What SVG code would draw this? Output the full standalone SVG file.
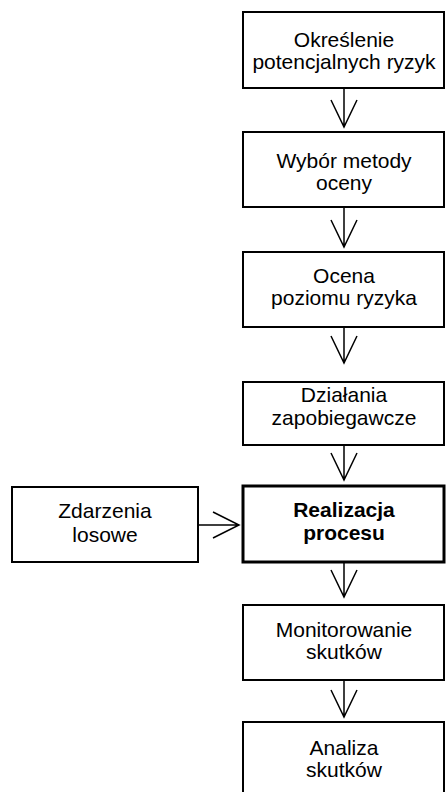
<svg xmlns="http://www.w3.org/2000/svg" width="446" height="792" viewBox="0 0 446 792">
<style>
.box{fill:#fff;stroke:#000;stroke-width:2}
.thick{fill:#fff;stroke:#000;stroke-width:3}
text{font-family:"Liberation Sans",Arial,sans-serif;font-size:21px;fill:#000;text-anchor:middle}
.b{font-weight:bold}
.c{fill:none;stroke:#000;stroke-width:1.5}
</style>
<rect width="446" height="792" fill="#fff"/>
<g id="connectors">
<path class="c" d="M344 88V127M331 100L344 127L357 100"/>
<path class="c" d="M344 207V247M331 220L344 247L357 220"/>
<path class="c" d="M344 327V363M331 336L344 363L357 336"/>
<path class="c" d="M344 445V480M331 453L344 480L357 453"/>
<path class="c" d="M344 562V597M331 570L344 597L357 570"/>
<path class="c" d="M344 680V717M331 690L344 717L357 690"/>
<path class="c" d="M199 525H239M213 512L239 525L213 538"/>
</g>
<g id="n1"><rect class="box" x="243" y="12" width="201" height="76"/><text x="344" y="47">Określenie</text><text x="344" y="69">potencjalnych ryzyk</text></g>
<g id="n2"><rect class="box" x="243" y="132" width="201" height="75"/><text x="344" y="168">Wybór metody</text><text x="344" y="190">oceny</text></g>
<g id="n3"><rect class="box" x="243" y="252" width="201" height="75"/><text x="344" y="283">Ocena</text><text x="344" y="305">poziomu ryzyka</text></g>
<g id="n4"><rect class="box" x="243" y="382" width="201" height="63"/><text x="344" y="402">Działania</text><text x="344" y="425">zapobiegawcze</text></g>
<g id="n5"><rect class="thick" x="243" y="486" width="201" height="76"/><text class="b" x="344" y="517">Realizacja</text><text class="b" x="344" y="540">procesu</text></g>
<g id="n8"><rect class="box" x="12" y="487" width="186" height="75"/><text x="105" y="518">Zdarzenia</text><text x="105" y="542">losowe</text></g>
<g id="n6"><rect class="box" x="243" y="605" width="201" height="75"/><text x="344" y="637">Monitorowanie</text><text x="344" y="659">skutków</text></g>
<g id="n7"><rect class="box" x="243" y="722" width="201" height="80"/><text x="344" y="755">Analiza</text><text x="344" y="777">skutków</text></g>
</svg>
